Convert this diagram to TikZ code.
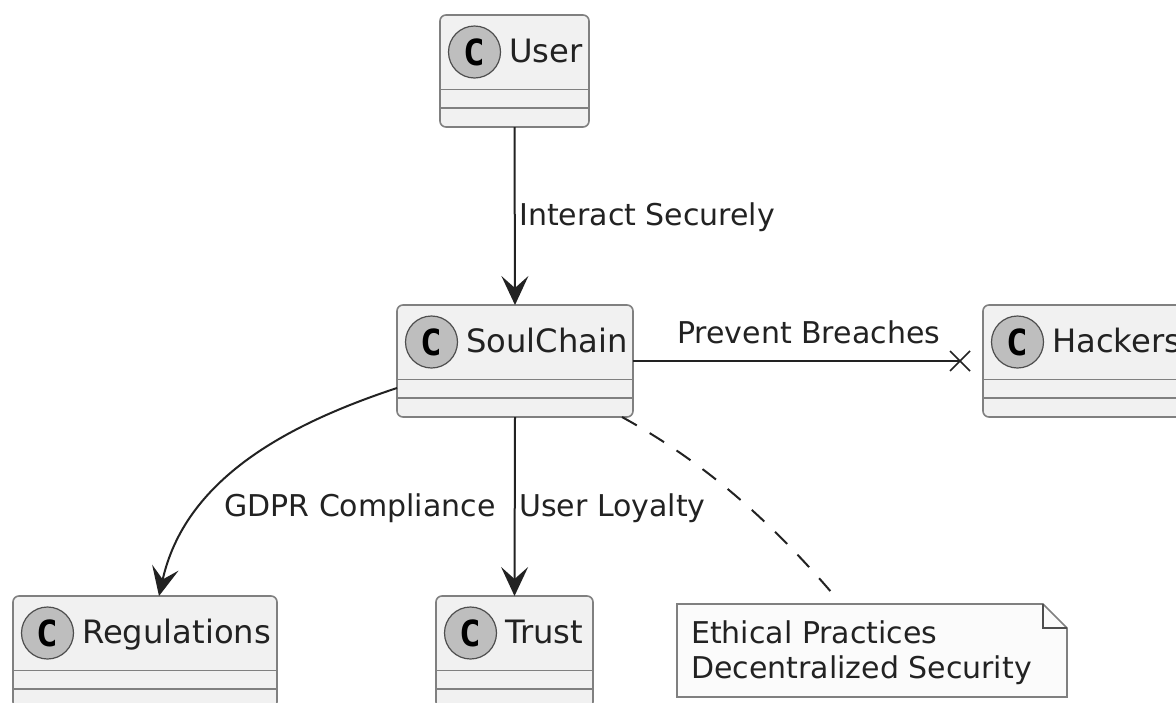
\documentclass[tikz,border=0pt]{standalone}
\usepackage{fontspec}
\setmainfont{DejaVu Sans}
\newfontfamily\spotfont{DejaVu Sans Mono}
\usetikzlibrary{arrows.meta,shapes.misc,calc}
\definecolor{boxfill}{HTML}{F1F1F1}
\definecolor{boxline}{HTML}{808080}
\definecolor{inkc}{HTML}{222222}
\definecolor{spotc}{HTML}{BEBEBE}
\definecolor{notefill}{HTML}{FBFBFB}
\tikzset{
  x=1pt,y=-1pt,
  classbody/.style={draw=boxline,fill=boxfill,line width=1.6pt,rounded corners=6pt,minimum height=112pt,inner sep=0pt,outer sep=0pt,anchor=north west},
  sepline/.style={draw=boxline,line width=1.5pt},
  spot/.style={circle,draw=inkc!80,fill=spotc,line width=1.2pt,minimum size=52pt,inner sep=0pt,font=\fontsize{36}{36}\spotfont\bfseries\selectfont,text=black},
  classname/.style={anchor=base west,inner sep=0pt,font=\fontsize{32.2}{38}\selectfont,text=inkc},
  edgelabel/.style={anchor=base west,inner sep=0pt,font=\fontsize{30}{36}\selectfont,text=inkc},
  conn/.style={draw=inkc,line width=2pt},
  headtip/.style={-{Stealth[length=29pt,width=27pt,inset=12pt]}},
  notebody/.style={minimum width=390pt,minimum height=93pt,inner sep=0pt,outer sep=0pt,anchor=north west},
  crossmark/.style={cross out,draw=inkc,line width=1.6pt,minimum size=20pt,inner sep=0pt,outer sep=0pt},
}
\newcommand{\classbox}[5]{%
  \node[classbody,minimum width=#4pt] (#1) at (#2,#3) {};
  \draw[sepline] ($(#1.north west)+(0,-74.5pt)$) -- ($(#1.north east)+(0,-74.5pt)$);
  \draw[sepline] ($(#1.north west)+(0,-93pt)$) -- ($(#1.north east)+(0,-93pt)$);
  \node[spot] (#1spot) at ($(#1.north west)+(34.5pt,-37pt)$) {C};
  \node[classname] (#1name) at ($(#1.north west)+(69pt,-47.5pt)$) {#5};
}
\begin{document}
\begin{tikzpicture}
\useasboundingbox (0,0) rectangle (1176,702);
\clip (0,0) rectangle (1176,702);
\fill[white] (0,0) rectangle (1176,702);
\classbox{user}{440}{15}{149}{User}
\classbox{soul}{397}{305}{236}{SoulChain}
\classbox{hack}{983}{305}{230}{Hackers}
\classbox{regs}{13}{596}{264}{Regulations}
\classbox{trust}{436}{596}{157}{Trust}
% note
\node[notebody] (note) at (677,604) {};
\draw[draw=boxline,line width=1.6pt,fill=notefill]
  (note.north west) -- ($(note.north east)+(-24pt,0)$) -- ($(note.north east)+(0,-24pt)$) -- (note.south east) -- (note.south west) -- cycle;
\draw[draw=inkc!80,line width=1.4pt] ($(note.north east)+(-24pt,0)$) -- ($(note.north east)+(-24pt,-24pt)$) -- ($(note.north east)+(0,-24pt)$);
\node[edgelabel] (noteA) at (691,643) {Ethical Practices};
\node[edgelabel] (noteB) at (691,678) {Decentralized Security};
% connectors
\draw[conn,headtip] (user.south) -- (soul.north);
\node[crossmark] (xm) at (960,361) {};
\draw[conn] (soul.east |- xm) -- (xm.center);
\draw[conn,headtip] ([yshift=-27pt]soul.west) .. controls (285,425) and (185,480) .. (regs.north -| 159,596);
\draw[conn,headtip] (soul.south) -- (trust.north);
\coordinate (noteend) at (832,593);
\draw[draw=inkc,line width=2pt,dash pattern=on 17pt off 15pt] (622,417) .. controls (700,460) and (765,515) .. (noteend);
% labels
\node[edgelabel] (l1) at (519,225) {Interact Securely};
\node[edgelabel] (l2) at (677,343) {Prevent Breaches};
\node[edgelabel] (l3) at (224,516) {GDPR Compliance};
\node[edgelabel] (l4) at (519,516) {User Loyalty};
\end{tikzpicture}
\end{document}
